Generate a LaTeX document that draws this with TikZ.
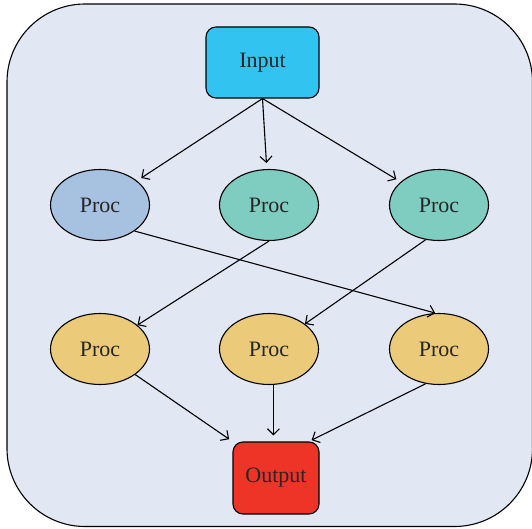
\documentclass[tikz,border=0pt]{standalone}
\usepackage{fontspec}
\setmainfont{Liberation Serif}
\usetikzlibrary{shapes.geometric,arrows.meta}
\definecolor{bgc}{HTML}{E1E8F4}
\definecolor{inc}{HTML}{33C3F0}
\definecolor{pac}{HTML}{A7C1E0}
\definecolor{pbc}{HTML}{7ECDC0}
\definecolor{qc}{HTML}{EBCA7A}
\definecolor{outc}{HTML}{EE3427}
\definecolor{txt}{HTML}{262626}
\tikzset{
  base/.style={draw=black, line width=1.1pt, text=txt, font=\fontsize{22}{26}\selectfont, inner sep=0pt},
  boxnode/.style={base, rectangle, rounded corners=10pt},
  procnode/.style={base, ellipse, minimum width=99pt, minimum height=71pt},
  conn/.style={line width=1.1pt, -{Straight Barb[length=6pt,width=12pt]}},
}
\begin{document}
\begin{tikzpicture}[x=1pt,y=-1pt]
\useasboundingbox (0,0) rectangle (532,529);
\draw[fill=bgc, line width=1.1pt, rounded corners=78pt] (7,4) rectangle (532.5,526.5);
\node[boxnode, fill=inc, minimum width=113pt, minimum height=71pt] (in) at (262.5,62.5) {Input};
\node[procnode, fill=pac] (p1) at (100,205) {Proc};
\node[procnode, fill=pbc] (p2) at (269,205) {Proc};
\node[procnode, fill=pbc] (p3) at (439,205) {Proc};
\node[procnode, fill=qc] (q1) at (100,349) {Proc};
\node[procnode, fill=qc] (q2) at (269,349) {Proc};
\node[procnode, fill=qc] (q3) at (439,349) {Proc};
\node[boxnode, fill=outc, minimum width=86pt, minimum height=72pt] (out) at (276,478) {Output};
\draw[conn, shorten >=5pt] (in.south) -- (p1);
\draw[conn, shorten >=6pt] (in.south) -- (p2);
\draw[conn, shorten >=5pt] (in.south) -- (p3);
\draw[conn] (p1.-37) -- (q3.96);
\draw[conn] (p2.south) -- (q1);
\draw[conn] (p3.-111) -- (q2);
\draw[conn, shorten >=4pt] (q1.-36) -- (out.north west);
\draw[conn, shorten >=6pt] (q2.-83) -- (q2.-83 |- out.north);
\draw[conn, shorten >=3pt] (q3.-111) -- (out.48);
\end{tikzpicture}
\end{document}
